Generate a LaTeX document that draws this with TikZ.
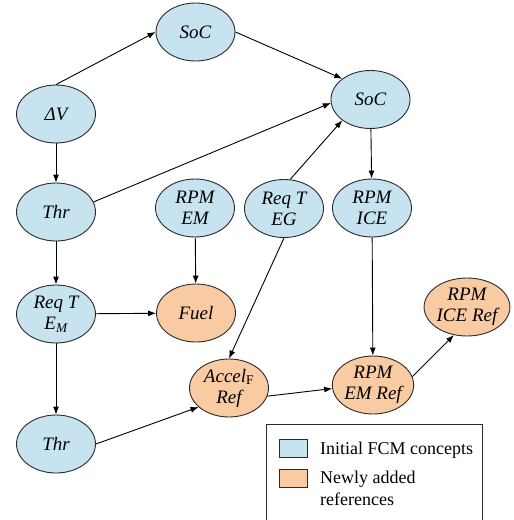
\documentclass[tikz,border=0pt]{standalone}
\usepackage{fontspec}
\setmainfont{Liberation Serif}
\usetikzlibrary{shapes.geometric,arrows.meta}
\definecolor{cblue}{HTML}{C6E3EF}
\definecolor{corange}{HTML}{F8CBA2}
\definecolor{edge}{HTML}{2A2A2A}
\begin{document}
\begin{tikzpicture}[x=1pt,y=-1pt,
  concept/.style={ellipse,draw=edge,line width=0.9pt,minimum width=79pt,minimum height=58pt,inner sep=0pt,
    align=center,font=\fontsize{19}{21}\selectfont\itshape},
  init/.style={concept,fill=cblue},
  newref/.style={concept,fill=corange},
  arr/.style={draw=black,line width=0.9pt,-{Latex[length=8pt,width=6pt]}},
  swatch/.style={draw=edge,line width=0.9pt,minimum width=28pt,minimum height=18pt,inner sep=0pt},
  legtext/.style={inner sep=0pt,align=left,font=\fontsize{18}{22}\selectfont}]
\useasboundingbox (0,0) rectangle (514,520);
% nodes
\node[init] (soc1) at (195.5,32) {SoC};
\node[init] (soc2) at (370.5,99.5) {SoC};
\node[init] (dv) at (56,114) {ΔV};
\node[init] (thr1) at (56,212) {Thr};
\node[init] (rpmem) at (195,208) {RPM\\EM};
\node[init] (reqeg) at (284,208.5) {Req T\\EG};
\node[init] (rpmice) at (372,208) {RPM\\ICE};
\node[init] (reqem) at (56,314) {Req T\\E\textsubscript{M}};
\node[init] (thr2) at (56,444) {Thr};
\node[newref] (fuel) at (196,313) {Fuel};
\node[newref] (accel) at (229,388) {Accel\textsubscript{\upshape F}\\Ref};
\node[newref] (emref) at (373,385) {RPM\\EM Ref};
\node[newref] (iceref) at (467,307) {RPM\\ICE Ref};
% edges
\draw[arr] (dv.north) -- (soc1.west);
\draw[arr] (soc1.east) -- (soc2.north west);
\draw[arr] (dv) -- (thr1);
\draw[arr] (thr1.15) -- (soc2.185);
\draw[arr] (reqeg.78) -- (soc2.south west);
\draw[arr] (soc2) -- (rpmice);
\draw[arr] (rpmem) -- (fuel);
\draw[arr] (reqeg.south) -- (accel.north);
\draw[arr] (rpmice) -- (emref);
\draw[arr] (thr1) -- (reqem);
\draw[arr] (reqem) -- (fuel);
\draw[arr] (reqem) -- (thr2);
\draw[arr] (thr2.east) -- (accel.212);
\draw[arr] (accel.-12) -- (emref.185);
\draw[arr] (emref.12) -- (iceref.245);
% legend
\coordinate (lgbl) at (266,522);
\coordinate (lgtl) at (266,424);
\coordinate (lgtr) at (482,424);
\coordinate (lgbr) at (482,522);
\draw[draw=edge,line width=0.9pt] (lgbl) -- (lgtl) -- (lgtr) -- (lgbr);
\node[swatch,fill=cblue] (sw1) at (293,448.5) {};
\node[swatch,fill=corange] (sw2) at (293,478.5) {};
\node[legtext,anchor=base west] (lt1) at (320,454) {Initial FCM concepts};
\node[legtext,anchor=base west] (lt2) at (320,483) {Newly added};
\node[legtext,anchor=base west] (lt3) at (320,505) {references};
\end{tikzpicture}
\end{document}
